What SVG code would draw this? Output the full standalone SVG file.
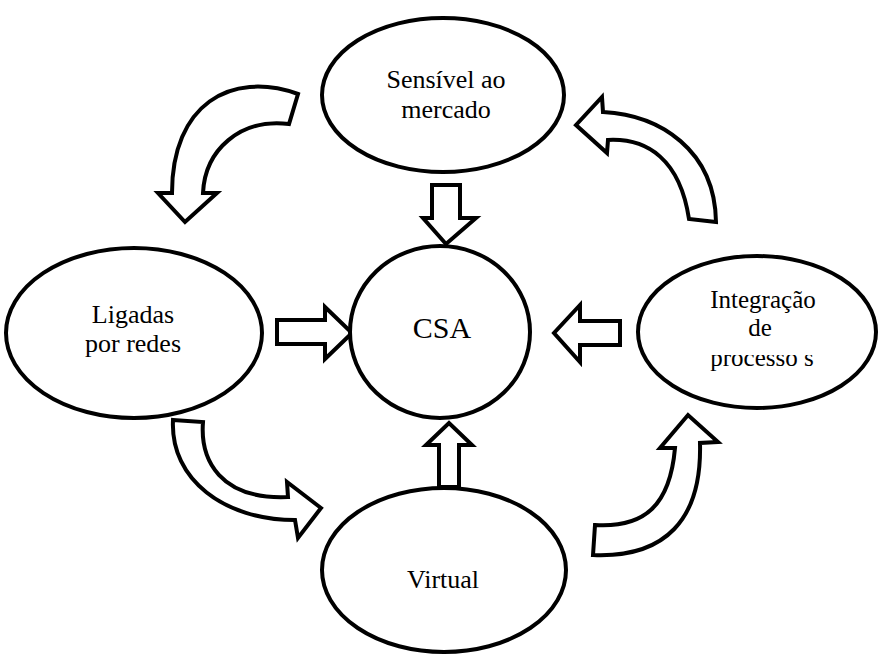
<svg xmlns="http://www.w3.org/2000/svg" width="879" height="663" viewBox="0 0 879 663">
  <style>
    .node { fill: #ffffff; stroke: #000000; stroke-width: 4; }
    .arrow { fill: #ffffff; stroke: #000000; stroke-width: 4; stroke-linejoin: miter; }
    .label { font-size: 26px; fill: #000000; text-anchor: middle; }
    .big { font-size: 30px; }
    .small { font-size: 25px; }
  </style>
  <defs>
    <!-- the last line of the right-hand node is trimmed at the top -->
    <clipPath id="clip-last-line">
      <rect x="640" y="355" width="240" height="40"/>
    </clipPath>
  </defs>
  <rect width="879" height="663" fill="#ffffff"/>

  <g id="connectors">
    <!-- straight block arrows into the centre -->
    <path class="arrow" d="M432,185 L460,185 L460,218 L476,218 L446,244 L423,218 L432,218 Z"/>
    <path class="arrow" d="M439,487 L459,487 L459,445 L472,445 L449,423 L426,445 L439,445 Z"/>
    <path class="arrow" d="M277,320 L325,320 L325,307 L352,333 L325,359 L325,344 L277,344 Z"/>
    <path class="arrow" d="M620,321 L580,321 L580,305 L554,333 L580,362 L580,345 L620,345 Z"/>
    <!-- curved block arrows around the cycle -->
    <path class="arrow" d="M298,94 C230,70 172,105 172,193 L158,193 L185,222 L217,193 L203,193 C205,150 240,118 289,124 Z"/>
    <path class="arrow" d="M716,222 C715,150 660,115 603,112 L602,97 L576,125 L607,153 L608,140 C648,138 680,160 689,219 Z"/>
    <path class="arrow" d="M173,420 L203,422 C200,460 220,500 288,497 L287,482 L321,508 L298,538 L295,520 C225,520 170,480 173,420 Z"/>
    <path class="arrow" d="M595,525 C645,528 670,505 675,448 L660,448 L688,415 L718,442 L700,443 C702,520 665,558 593,555 Z"/>
  </g>

  <g font-family="'Liberation Serif', 'DejaVu Serif', 'Times New Roman', serif">
    <g id="node-mercado">
      <ellipse class="node" cx="443" cy="95" rx="121" ry="77"/>
      <text class="label" x="446" y="88">Sensível ao</text>
      <text class="label" x="446" y="118">mercado</text>
    </g>

    <g id="node-redes">
      <ellipse class="node" cx="134" cy="333" rx="128" ry="85"/>
      <text class="label" x="133" y="323">Ligadas</text>
      <text class="label" x="133" y="352">por redes</text>
    </g>

    <g id="node-csa">
      <ellipse class="node" cx="440" cy="332" rx="90" ry="86"/>
      <text class="label big" x="442" y="338">CSA</text>
    </g>

    <g id="node-processos">
      <ellipse class="node" cx="757" cy="332" rx="119" ry="76"/>
      <text class="label small" x="763" y="308">Integração</text>
      <text class="label small" x="760" y="336">de</text>
      <text class="label small" x="762" y="366" clip-path="url(#clip-last-line)">processo s</text>
    </g>

    <g id="node-virtual">
      <ellipse class="node" cx="444" cy="570" rx="122" ry="82"/>
      <text class="label" x="443" y="588">Virtual</text>
    </g>
  </g>
</svg>
